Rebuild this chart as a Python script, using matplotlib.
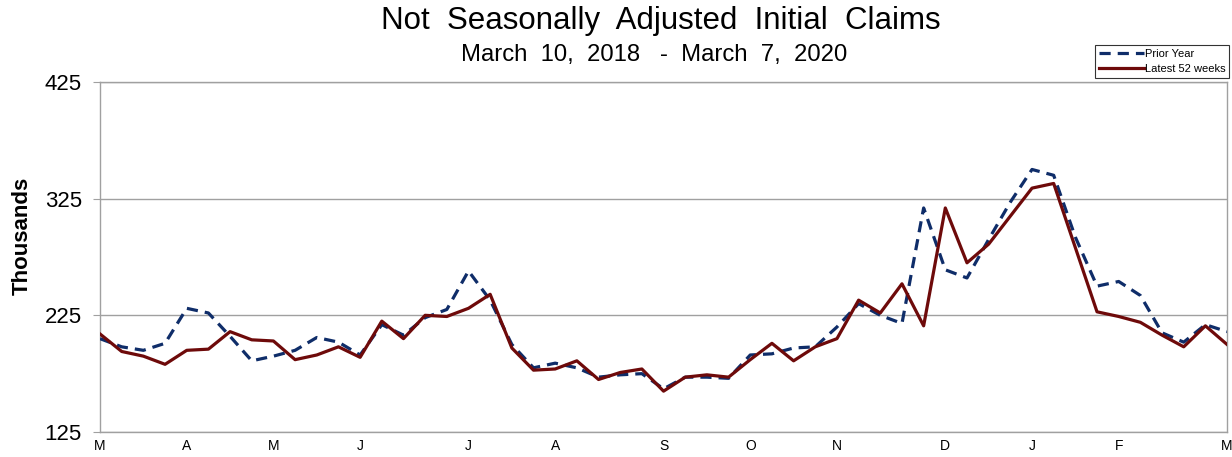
import matplotlib.pyplot as plt
import numpy as np

plt.rcParams['font.family'] = ['Liberation Sans', 'DejaVu Sans']

# weekly values, thousands (53 weeks shown)
prior_year = [205, 198, 195, 201, 231, 227, 207, 186, 190, 195, 206, 202, 191,
              217, 208, 223, 230, 263, 238, 200, 180, 184, 180, 172, 174, 175,
              162, 172, 172, 171, 191, 192, 197, 198, 215, 235, 225, 218, 317,
              264, 257, 290, 322, 350, 345, 292, 250, 254, 242, 210, 202, 217, 211]
latest_52 = [209, 194, 190, 183, 195, 196, 211, 204, 203, 187, 191, 198, 189,
             220, 205, 225, 224, 231, 243, 197, 178, 179, 186, 170, 176, 179,
             160, 172, 174, 172, 187, 201, 186, 198, 205, 238, 227, 252, 216,
             317, 270, 286, 310, 334, 338, 283, 228, 224, 219, 208, 198, 216, 200]
month_pos = [0, 4, 8, 12, 17, 21, 26, 30, 34, 39, 43, 47, 52]
month_labels = ['M', 'A', 'M', 'J', 'J', 'A', 'S', 'O', 'N', 'D', 'J', 'F', 'M']
y_ticks = [125, 225, 325, 425]

weeks = np.arange(len(latest_52))

fig = plt.figure(figsize=(12.32, 4.57), dpi=100)
ax = fig.add_axes([0.0812, 0.0547, 0.9148, 0.766])

ax.plot(weeks, prior_year, color='#0F2D69', linewidth=2.3, linestyle=(0, (3.5, 2.2)),
        label='Prior Year', zorder=3)
ax.plot(weeks, latest_52, color='#6E0A0A', linewidth=2.3, label='Latest 52 weeks', zorder=4)

ax.set_xlim(0, 52)
ax.set_ylim(125, 425)
ax.set_yticks(y_ticks)
ax.set_yticklabels([str(v) for v in y_ticks], fontsize=16)
ax.set_xticks(month_pos)
ax.set_xticklabels(month_labels, fontsize=10)
ax.tick_params(axis='x', length=0, pad=5)
ax.tick_params(axis='y', length=5, color='#A0A0A0', pad=8)
ax.yaxis.grid(True, color='#A0A0A0', linewidth=1)
for s in ax.spines.values():
    s.set_color('#A0A0A0')
    s.set_linewidth(1)

fig.text(0.018, 0.484, 'Thousands', rotation=90, ha='center', va='center',
         fontsize=16, fontweight='bold')

fig.text(0.536, 0.955, 'Not  Seasonally  Adjusted  Initial  Claims', ha='center',
         va='center', fontsize=22.5)
fig.text(0.531, 0.880, 'March  10,  2018   -  March  7,  2020', ha='center',
         va='center', fontsize=17.2)

leg = ax.legend(loc='lower right', bbox_to_anchor=(1.002, 1.012), fontsize=8,
                frameon=True, fancybox=False, borderpad=0.35, handlelength=4,
                handletextpad=0.1, labelspacing=0.45, borderaxespad=0)
leg.get_frame().set_edgecolor('black')
leg.get_frame().set_linewidth(0.8)

fig.savefig('out.png', dpi=100)
